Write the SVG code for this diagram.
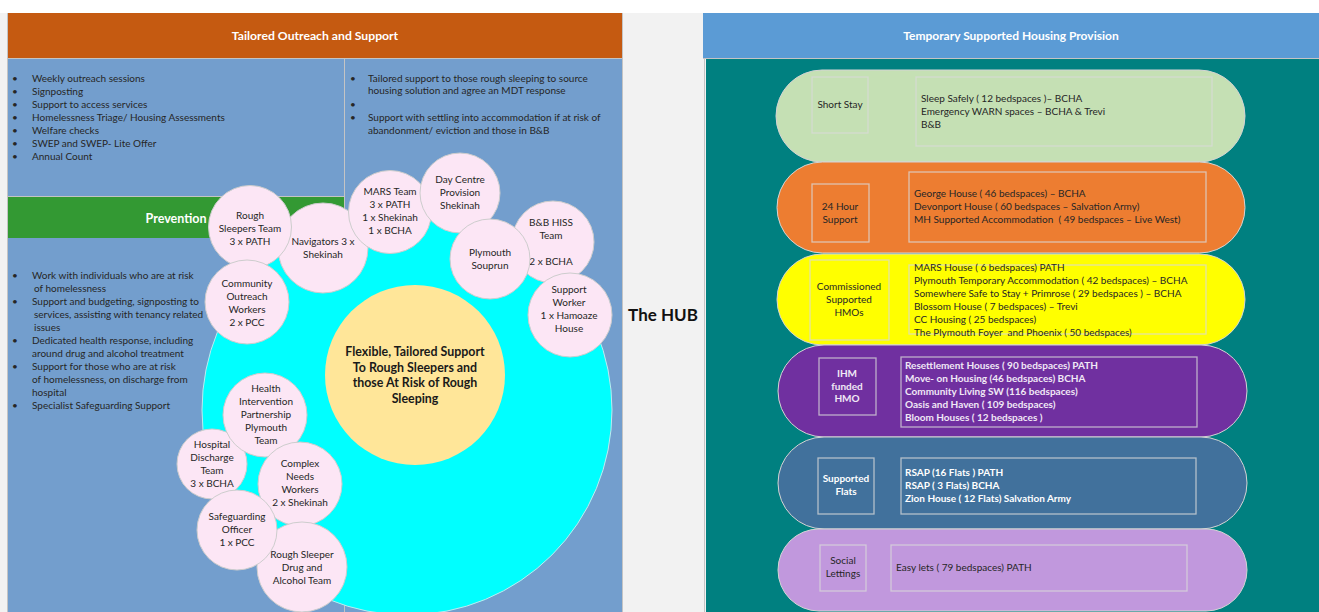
<svg xmlns="http://www.w3.org/2000/svg" width="1319" height="612" viewBox="0 0 1319 612">
<style>
.t{font-family:Lato,'Liberation Sans',sans-serif;font-size:10px;fill:#262626;white-space:pre}
.m{text-anchor:middle}
.b{font-weight:bold}
.w{fill:#ffffff}
.lt{fill:#f0e8f6}
.core{font-size:12.4px;fill:#1a1a1a}
.hd{font-family:Lato,'Liberation Sans',sans-serif;font-weight:bold;fill:#ffffff;text-anchor:middle}
.pc{fill:#fce6f5;stroke:#cdcdcd;stroke-width:1}
.ln{stroke:#c4c4c4;stroke-width:1;fill:none}
.pill{stroke:#d4d4d4;stroke-width:1}
.box{fill:none;stroke:#d9d9d9;stroke-opacity:0.75;stroke-width:1.3}
</style>
<rect x="0" y="0" width="1319" height="612" fill="#ffffff"/>
<rect x="0" y="13" width="1319" height="599" fill="#f2f2f2"/>

<g id="left-panel">
  <rect x="7" y="13" width="616" height="45" fill="#c55a11"/>
  <text class="hd" x="315" y="40" font-size="12.2">Tailored Outreach and Support</text>
  <rect x="7" y="58" width="616" height="554" fill="#739ecd"/>
  <rect x="7" y="197" width="337" height="41" fill="#339933"/>
  <text class="hd" x="176" y="223" font-size="12.5">Prevention</text>
  <line class="ln" x1="7" y1="58.5" x2="623" y2="58.5"/>
  <line class="ln" x1="344.5" y1="58" x2="344.5" y2="612"/>
  <line class="ln" x1="7" y1="196.5" x2="344" y2="196.5"/>
  <line class="ln" x1="7.5" y1="13" x2="7.5" y2="612"/>
  <line class="ln" x1="622.5" y1="13" x2="622.5" y2="612"/>
</g>

<g id="outreach-list" class="t">
  <text x="12" y="82">•</text><text x="32" y="82">Weekly outreach sessions</text>
  <text x="12" y="95">•</text><text x="32" y="95">Signposting</text>
  <text x="12" y="108">•</text><text x="32" y="108">Support to access services</text>
  <text x="12" y="121">•</text><text x="32" y="121">Homelessness Triage/ Housing Assessments</text>
  <text x="12" y="134">•</text><text x="32" y="134">Welfare checks</text>
  <text x="12" y="147">•</text><text x="32" y="147">SWEP and SWEP- Lite Offer</text>
  <text x="12" y="160">•</text><text x="32" y="160">Annual Count</text>
</g>

<g id="tailored-list" class="t">
  <text x="350" y="82">•</text><text x="368" y="82">Tailored support to those rough sleeping to source</text>
  <text x="368" y="94">housing solution and agree an MDT response</text>
  <text x="350" y="108">•</text>
  <text x="350" y="121">•</text><text x="368" y="121">Support with settling into accommodation if at risk of</text>
  <text x="368" y="134">abandonment/ eviction and those in B&amp;B</text>
</g>

<g id="prevention-list" class="t">
  <text x="12" y="279">•</text><text x="32" y="279">Work with individuals who are at risk</text>
  <text x="34" y="292">of homelessness</text>
  <text x="12" y="305">•</text><text x="32" y="305">Support and budgeting, signposting to</text>
  <text x="34" y="318">services, assisting with tenancy related</text>
  <text x="34" y="331">issues</text>
  <text x="12" y="344">•</text><text x="32" y="344">Dedicated health response, including</text>
  <text x="32" y="357">around drug and alcohol treatment</text>
  <text x="12" y="370">•</text><text x="32" y="370">Support for those who are at risk</text>
  <text x="32" y="383">of homelessness, on discharge from</text>
  <text x="32" y="396">hospital</text>
  <text x="12" y="409">•</text><text x="32" y="409">Specialist Safeguarding  Support</text>
</g>

<g id="hub-circle">
  <circle cx="407" cy="410" r="205" fill="#00ffff" stroke="#bfe9f0" stroke-width="1"/>
</g>
<g id="core">
  <circle cx="415" cy="375" r="90" fill="#ffe699"/>
  <text class="t m b core" x="415" y="356">Flexible, Tailored Support</text>
  <text class="t m b core" x="415" y="372">To Rough Sleepers and</text>
  <text class="t m b core" x="415" y="387">those At Risk of Rough</text>
  <text class="t m b core" x="415" y="403">Sleeping</text>
</g>

<g id="navigators"><circle class="pc" cx="323" cy="248" r="45"/>
  <text class="t m" x="323" y="245">Navigators 3 x</text><text class="t m" x="323" y="258">Shekinah</text></g>
<g id="rough-sleepers-team"><circle class="pc" cx="250" cy="227" r="41.5"/>
  <text class="t m" x="250" y="219">Rough</text><text class="t m" x="250" y="232">Sleepers Team</text><text class="t m" x="250" y="245">3 x PATH</text></g>
<g id="community-outreach"><circle class="pc" cx="247" cy="302" r="42"/>
  <text class="t m" x="247" y="287">Community</text><text class="t m" x="247" y="300">Outreach</text><text class="t m" x="247" y="313">Workers</text><text class="t m" x="247" y="326">2 x PCC</text></g>
<g id="mars-team"><circle class="pc" cx="390" cy="212" r="41.5"/>
  <text class="t m" x="390" y="195">MARS Team</text><text class="t m" x="390" y="208">3 x PATH</text><text class="t m" x="390" y="221">1 x Shekinah</text><text class="t m" x="390" y="234">1 x BCHA</text></g>
<g id="day-centre"><circle class="pc" cx="460" cy="193" r="40"/>
  <text class="t m" x="460" y="183">Day Centre</text><text class="t m" x="460" y="196">Provision</text><text class="t m" x="460" y="209">Shekinah</text></g>
<g id="bb-hiss"><circle class="pc" cx="553" cy="242" r="41"/>
  <text class="t m" x="551" y="226">B&amp;B HISS</text><text class="t m" x="551" y="239">Team</text><text class="t m" x="551" y="265">2 x BCHA</text></g>
<g id="plymouth-souprun"><circle class="pc" cx="490" cy="259" r="40"/>
  <text class="t m" x="490" y="256">Plymouth</text><text class="t m" x="490" y="269">Souprun</text></g>
<g id="support-worker"><circle class="pc" cx="570" cy="315" r="42"/>
  <text class="t m" x="569" y="293">Support</text><text class="t m" x="569" y="306">Worker</text><text class="t m" x="569" y="319">1 x Hamoaze</text><text class="t m" x="569" y="332">House</text></g>
<g id="hospital-discharge"><circle class="pc" cx="212" cy="464" r="35"/>
  <text class="t m" x="212" y="448">Hospital</text><text class="t m" x="212" y="461">Discharge</text><text class="t m" x="212" y="474">Team</text><text class="t m" x="212" y="487">3 x BCHA</text></g>
<g id="health-intervention"><circle class="pc" cx="265" cy="415" r="42"/>
  <text class="t m" x="266" y="392">Health</text><text class="t m" x="266" y="405">Intervention</text><text class="t m" x="266" y="418">Partnership</text><text class="t m" x="266" y="431">Plymouth</text><text class="t m" x="266" y="444">Team</text></g>
<g id="complex-needs"><circle class="pc" cx="300" cy="484" r="42"/>
  <text class="t m" x="300" y="467">Complex</text><text class="t m" x="300" y="480">Needs</text><text class="t m" x="300" y="493">Workers</text><text class="t m" x="300" y="506">2 x Shekinah</text></g>
<g id="drug-alcohol"><circle class="pc" cx="302" cy="567" r="45"/>
  <text class="t m" x="302" y="558">Rough Sleeper</text><text class="t m" x="302" y="571">Drug and</text><text class="t m" x="302" y="584">Alcohol Team</text></g>
<g id="safeguarding"><circle class="pc" cx="237" cy="530" r="40"/>
  <text class="t m" x="237" y="520">Safeguarding</text><text class="t m" x="237" y="533">Officer</text><text class="t m" x="237" y="546">1 x PCC</text></g>

<g id="hub">
  <line class="ln" x1="704.5" y1="58" x2="704.5" y2="612"/>
  <text x="663" y="321" font-family="Lato,'Liberation Sans',sans-serif" font-weight="bold" font-size="17" fill="#111111" text-anchor="middle">The HUB</text>
</g>

<g id="right-panel">
  <rect x="703" y="13" width="616" height="45" fill="#5b9bd5"/>
  <line class="ln" x1="703" y1="58.5" x2="1319" y2="58.5"/>
  <text class="hd" x="1011" y="40" font-size="12">Temporary Supported Housing Provision</text>
  <rect x="706" y="59" width="613" height="553" fill="#008080"/>
</g>

<g id="short-stay">
  <rect class="pill" x="776" y="70" width="469" height="92" rx="46" fill="#c5e0b4"/>
  <rect class="box" x="812" y="77" width="56" height="56"/>
  <text class="t m" x="840" y="108">Short Stay</text>
  <rect class="box" x="916" y="77" width="296" height="69"/>
  <text class="t" x="921" y="102">Sleep Safely ( 12 bedspaces )– BCHA</text>
  <text class="t" x="921" y="115">Emergency WARN spaces – BCHA &amp; Trevi</text>
  <text class="t" x="921" y="128">B&amp;B</text>
</g>

<g id="24-hour-support">
  <rect class="pill" x="777" y="162" width="468" height="91" rx="45.5" fill="#ed7d31"/>
  <rect class="box" x="812" y="184" width="57" height="58"/>
  <text class="t m" x="840" y="210">24 Hour</text>
  <text class="t m" x="840" y="223">Support</text>
  <rect class="box" x="909" y="172" width="297" height="70"/>
  <text class="t" x="914" y="197">George House ( 46 bedspaces) – BCHA</text>
  <text class="t" x="914" y="210">Devonport House ( 60 bedspaces – Salvation Army)</text>
  <text class="t" x="914" y="223">MH Supported Accommodation  ( 49 bedspaces – Live West)</text>
</g>

<g id="commissioned-hmos">
  <rect class="pill" x="777" y="254" width="468" height="91" rx="45.5" fill="#ffff00"/>
  <rect class="box" x="810" y="260" width="79" height="80"/>
  <text class="t m" x="849" y="290">Commissioned</text>
  <text class="t m" x="849" y="303">Supported</text>
  <text class="t m" x="849" y="316">HMOs</text>
  <rect class="box" x="909" y="265" width="297" height="69"/>
  <text class="t" x="914" y="271">MARS House ( 6 bedspaces) PATH</text>
  <text class="t" x="914" y="284">Plymouth Temporary Accommodation ( 42 bedspaces) – BCHA</text>
  <text class="t" x="914" y="297">Somewhere Safe to Stay + Primrose ( 29 bedspaces ) – BCHA</text>
  <text class="t" x="914" y="310">Blossom House ( 7 bedspaces) – Trevi</text>
  <text class="t" x="914" y="323">CC Housing ( 25 bedspaces)</text>
  <text class="t" x="914" y="336">The Plymouth Foyer  and Phoenix ( 50 bedspaces)</text>
</g>

<g id="ihm-funded-hmo">
  <rect class="pill" x="778" y="345" width="469" height="92" rx="46" fill="#7030a0"/>
  <rect class="box" x="819" y="358" width="57" height="57"/>
  <text class="t m b lt" x="847" y="377">IHM</text>
  <text class="t m b lt" x="847" y="390">funded</text>
  <text class="t m b lt" x="847" y="402">HMO</text>
  <rect class="box" x="901" y="357" width="296" height="70"/>
  <text class="t b lt" x="905" y="369">Resettlement Houses ( 90 bedspaces) PATH</text>
  <text class="t b lt" x="905" y="382">Move- on Housing (46 bedspaces) BCHA</text>
  <text class="t b lt" x="905" y="395">Community Living SW (116 bedspaces)</text>
  <text class="t b lt" x="905" y="408">Oasis and Haven ( 109 bedspaces)</text>
  <text class="t b lt" x="905" y="421">Bloom Houses ( 12 bedspaces )</text>
</g>

<g id="supported-flats">
  <rect class="pill" x="778" y="437" width="469" height="92" rx="46" fill="#41719c"/>
  <rect class="box" x="818" y="458" width="56" height="56"/>
  <text class="t m b w" x="846" y="482">Supported</text>
  <text class="t m b w" x="846" y="495">Flats</text>
  <rect class="box" x="901" y="458" width="295" height="56"/>
  <text class="t b w" x="905" y="476">RSAP (16 Flats ) PATH</text>
  <text class="t b w" x="905" y="489">RSAP ( 3 Flats) BCHA</text>
  <text class="t b w" x="905" y="502">Zion House ( 12 Flats) Salvation Army</text>
</g>

<g id="social-lettings">
  <rect class="pill" x="778" y="529" width="469" height="82" rx="41" fill="#c198dd"/>
  <rect class="box" x="820" y="545" width="46" height="46"/>
  <text class="t m" x="843" y="564">Social</text>
  <text class="t m" x="843" y="577">Lettings</text>
  <rect class="box" x="891" y="545" width="296" height="46"/>
  <text class="t" x="896" y="571">Easy lets ( 79 bedspaces) PATH</text>
</g>

<g id="connectors"></g>
</svg>
